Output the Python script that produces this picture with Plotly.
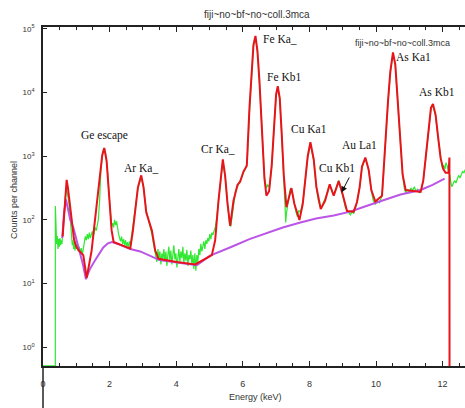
import plotly.graph_objects as go

# ---------------- data ----------------
fit_kev = [0.59, 0.63, 0.67, 0.71, 0.75, 0.80, 0.86, 0.93, 1.00, 1.08, 1.21, 1.31, 1.40, 1.46, 1.53,
           1.61, 1.71, 1.78, 1.84, 1.91, 1.99, 2.06, 2.12, 2.40, 2.62, 2.70, 2.77, 2.85, 2.95, 3.02,
           3.10, 3.17, 3.27, 3.37, 3.47, 4.02, 4.57, 5.07, 5.17, 5.27, 5.34, 5.40, 5.47, 5.54, 5.62,
           5.72, 5.84, 5.92, 6.02, 6.12, 6.20, 6.27, 6.32, 6.38, 6.44, 6.50, 6.55, 6.60, 6.65, 6.71,
           6.79, 6.87, 6.94, 7.00, 7.05, 7.11, 7.17, 7.23, 7.31, 7.38, 7.46, 7.55, 7.70, 7.80, 7.88,
           7.95, 8.03, 8.13, 8.21, 8.34, 8.47, 8.61, 8.73, 8.88, 9.00, 9.13, 9.33, 9.43, 9.51, 9.58,
           9.68, 9.78, 9.86, 9.98, 10.18, 10.23, 10.28, 10.36, 10.43, 10.51, 10.58, 10.66, 10.73, 10.80,
           10.89, 11.10, 11.34, 11.42, 11.49, 11.59, 11.65, 11.71, 11.79, 11.87, 11.94, 12.02, 12.09,
           12.18, 12.205, 12.21, 12.23]
fit_counts = [55, 112, 282, 427, 316, 178, 89, 50, 38, 33, 28, 12.3, 22, 33, 71,
              158, 525, 1047, 1349, 851, 224, 69, 45, 40, 35.5, 68, 158, 324, 501, 324,
              132, 98, 68, 33, 24.5, 21.9, 20, 28, 48, 200, 525, 891, 490, 182, 81,
              200, 355, 398, 575, 708, 5754, 27542, 56234, 77625, 44668, 15136, 3981, 1047, 447, 240,
              282, 741, 3162, 9333, 12589, 8128, 2188, 513, 158, 224, 316, 178, 100, 178, 427,
              1000, 1660, 891, 331, 148, 200, 363, 240, 407, 251, 138, 135, 191, 331, 692,
              955, 617, 295, 195, 240, 646, 1905, 7244, 21380, 42658, 27542, 6457, 1514, 513,
              295, 282, 275, 417, 933, 3162, 5754, 6607, 4467, 1905, 933, 631, 550,
              550, 955, 0.01, 0.01]

bg_kev = [0.58, 0.63, 0.69, 0.75, 0.82, 0.91, 1.00, 1.09, 1.20, 1.29, 1.40, 1.56, 1.70, 1.81, 1.95,
          2.07, 2.30, 2.62, 2.92, 3.32, 3.50, 4.02, 4.62, 5.02, 5.40, 5.72, 6.20, 6.73, 7.20, 7.73,
          8.20, 8.73, 9.23, 9.60, 10.03, 10.40, 10.74, 11.34, 11.70, 12.04, 12.06]
bg_counts = [52, 126, 209, 141, 100, 76, 50, 33, 20, 11.7, 16.6, 23, 30, 37, 43,
             45, 41, 35, 32, 26, 23.4, 21.4, 19.5, 27.5, 33, 39, 50, 62, 76, 91,
             105, 117, 135, 158, 186, 219, 251, 295, 355, 437, 447]

spec_kev = [0.00, 0.37, 0.371, 0.39, 0.41, 0.43, 0.45, 0.47, 0.49, 0.51, 0.53, 0.55, 0.57, 0.59, 0.62,
            0.65, 0.68, 0.71, 0.74, 0.77, 0.80, 0.83, 0.86, 0.88, 0.90, 0.92, 0.94, 0.96, 0.98, 1.00,
            1.03, 1.06, 1.09, 1.12, 1.15, 1.18, 1.21, 1.24, 1.27, 1.30, 1.33, 1.36, 1.39, 1.42, 1.45,
            1.48, 1.51, 1.54, 1.57, 1.60, 1.63, 1.66, 1.70, 1.74, 1.80, 1.84, 1.88, 1.94, 1.99, 2.03,
            2.06, 2.09, 2.12, 2.15, 2.18, 2.21, 2.24, 2.27, 2.30, 2.33, 2.36, 2.39, 2.42, 2.45, 2.48,
            2.51, 2.54, 2.57, 2.60, 2.63, 2.66, 2.70, 2.77, 2.85, 2.95, 3.02, 3.10, 3.17, 3.22, 3.27,
            3.32, 3.37, 3.42, 3.45, 3.48, 3.51, 3.54, 3.57, 3.60, 3.63, 3.66, 3.69, 3.72, 3.75, 3.78,
            3.81, 3.84, 3.87, 3.90, 3.93, 3.96, 3.99, 4.02, 4.05, 4.08, 4.11, 4.14, 4.17, 4.20, 4.23,
            4.26, 4.29, 4.32, 4.35, 4.38, 4.41, 4.44, 4.47, 4.50, 4.53, 4.56, 4.59, 4.62, 4.65, 4.68,
            4.71, 4.74, 4.77, 4.80, 4.83, 4.86, 4.89, 4.92, 4.95, 4.98, 5.01, 5.04, 5.07, 5.10, 5.14,
            5.18, 5.22, 5.27, 5.34, 5.40, 5.47, 5.54, 5.60, 5.64, 5.68, 5.72, 5.78, 5.84, 5.90, 5.96,
            6.02, 6.08, 6.13, 6.20, 6.27, 6.32, 6.38, 6.44, 6.50, 6.55, 6.60, 6.65, 6.71, 6.75, 6.80,
            6.87, 6.94, 7.00, 7.05, 7.11, 7.17, 7.23, 7.27, 7.29, 7.31, 7.34, 7.38, 7.42, 7.46, 7.50,
            7.55, 7.60, 7.64, 7.68, 7.73, 7.77, 7.82, 7.88, 7.95, 8.03, 8.13, 8.21, 8.27, 8.32, 8.36,
            8.40, 8.47, 8.55, 8.61, 8.67, 8.73, 8.80, 8.88, 8.95, 9.02, 9.08, 9.13, 9.18, 9.23, 9.28,
            9.33, 9.38, 9.43, 9.51, 9.58, 9.68, 9.78, 9.86, 9.92, 9.98, 10.04, 10.10, 10.16, 10.20, 10.23,
            10.28, 10.36, 10.43, 10.51, 10.58, 10.66, 10.73, 10.80, 10.85, 10.90, 10.95, 11.00, 11.05, 11.10, 11.15,
            11.20, 11.25, 11.30, 11.36, 11.42, 11.49, 11.59, 11.65, 11.71, 11.79, 11.87, 11.94, 11.99, 12.03, 12.07,
            12.10, 12.14, 12.18, 12.22, 12.25, 12.28, 12.32, 12.36, 12.40, 12.44, 12.48, 12.52, 12.56, 12.60, 12.64,
            12.68, 12.72]
spec_counts = [0.51, 0.51, 166, 68, 42, 56, 35, 50, 38, 52, 40, 48, 42, 63, 112,
               178, 263, 302, 251, 200, 141, 79, 56, 40, 48, 35, 45, 33, 42, 35,
               42, 32, 38, 30, 36, 28, 35, 45, 55, 48, 60, 50, 63, 52, 58,
               66, 55, 70, 76, 68, 83, 100, 200, 631, 1202, 1318, 1122, 562, 224, 112,
               79, 89, 76, 100, 83, 95, 71, 60, 52, 46, 55, 42, 50, 40, 48,
               38, 45, 36, 46, 42, 56, 79, 166, 316, 479, 316, 141, 100, 79, 60,
               42, 32, 22, 35, 25, 32, 20, 30, 24, 35, 22, 32, 19, 28, 38,
               23, 33, 20, 29, 40, 24, 30, 18, 28, 35, 22, 32, 25, 38, 21,
               30, 23, 34, 19, 28, 24, 33, 20, 28, 17, 30, 16, 28, 22, 35,
               28, 42, 32, 38, 46, 35, 48, 42, 52, 46, 60, 50, 63, 58, 71,
               79, 112, 200, 501, 832, 479, 191, 89, 79, 112, 191, 282, 331, 398, 447,
               550, 631, 794, 5012, 26303, 53703, 74131, 42658, 14125, 3802, 1000, 479, 316, 355, 331,
               708, 3020, 8913, 12023, 7943, 2089, 501, 158, 91, 126, 178, 224, 302, 316, 240,
               166, 132, 112, 141, 132, 158, 224, 417, 955, 1585, 851, 316, 200, 166, 158,
               178, 214, 282, 355, 282, 251, 316, 417, 316, 224, 158, 141, 132, 120, 135,
               126, 151, 191, 316, 661, 933, 603, 282, 200, 178, 200, 186, 224, 316, 603,
               1820, 6918, 20417, 40738, 26303, 6166, 1445, 501, 316, 263, 302, 275, 316, 288, 331,
               282, 302, 269, 295, 417, 891, 3020, 5495, 6310, 4266, 1820, 912, 661, 724, 631,
               794, 708, 562, 501, 380, 331, 372, 417, 380, 437, 501, 457, 525, 575, 550,
               631, 692]

x_tick_vals = [0, 2, 4, 6, 8, 10, 12]
x_tick_text = ["0", "2", "4", "6", "8", "10", "12"]
y_tick_vals = [1, 10, 100, 1000, 10000, 100000]
y_tick_text = ["10<sup>0</sup>", "10<sup>1</sup>", "10<sup>2</sup>", "10<sup>3</sup>",
               "10<sup>4</sup>", "10<sup>5</sup>"]

peak_labels = ["Ge escape", "Ar Ka_", "Cr Ka_", "Fe Ka_", "Fe Kb1", "Cu Ka1",
               "Cu Kb1", "Au La1", "As Ka1", "As Kb1"]

# ---------------- figure ----------------
GREEN = "#2fe82f"
RED = "#e8141b"
VIOLET = "#bb55e6"

fig = go.Figure()
fig.add_trace(go.Scatter(x=spec_kev, y=spec_counts, mode="lines",
                         line=dict(color=GREEN, width=1.2), showlegend=False))
fig.add_trace(go.Scatter(x=bg_kev, y=bg_counts, mode="lines",
                         line=dict(color=VIOLET, width=2), showlegend=False))
fig.add_trace(go.Scatter(x=fit_kev, y=fit_counts, mode="lines",
                         line=dict(color=RED, width=2), showlegend=False))

W, H = 465, 408
L, R, T, B = 43, 0, 27, 42
pw, ph = W - L - R, H - T - B


def px(xp):
    return (xp - L) / pw


def py(yp):
    return (H - B - yp) / ph


ann = []
label_pos = [(104.7, 135), (140.8, 167.7), (217.5, 149), (279.7, 38.7), (284, 77),
             (308.8, 129), (337, 167.7), (359.5, 145), (413, 57.3), (437, 91.7)]
for txt, (xp, yp) in zip(peak_labels, label_pos):
    ann.append(dict(text=txt, x=px(xp), y=py(yp), xref="paper", yref="paper",
                    showarrow=False, xanchor="center", yanchor="middle",
                    font=dict(family="Liberation Serif", size=11.5, color="#111")))

# arrow for Cu Kb1
ann.append(dict(text="", x=px(341.5), y=py(192.5), xref="paper", yref="paper",
                ax=8.5, ay=-16.5, showarrow=True, arrowhead=2, arrowsize=1.2,
                arrowwidth=1, arrowcolor="#111"))

# inner file label
ann.append(dict(text="fiji~no~bf~no~coll.3mca", x=px(402), y=py(43), xref="paper", yref="paper",
                showarrow=False, xanchor="center", yanchor="middle",
                font=dict(family="Liberation Sans", size=9, color="#333")))
# title
ann.append(dict(text="fiji~no~bf~no~coll.3mca", x=px(257), y=py(15), xref="paper", yref="paper",
                showarrow=False, xanchor="center", yanchor="middle",
                font=dict(family="Liberation Sans", size=10, color="#333")))
# axis titles
ann.append(dict(text="Energy (keV)", x=px(255), y=py(397), xref="paper", yref="paper",
                showarrow=False, xanchor="center", yanchor="middle",
                font=dict(family="Liberation Sans", size=9, color="#333")))
ann.append(dict(text="Counts per channel", x=px(14), y=py(200), xref="paper", yref="paper",
                showarrow=False, textangle=-90, xanchor="center", yanchor="middle",
                font=dict(family="Liberation Sans", size=9, color="#333")))

shapes = [dict(type="line", xref="paper", yref="paper", x0=0, x1=0, y0=py(408), y1=0,
               line=dict(color="#222", width=1.5))]

fig.update_layout(
    width=W, height=H,
    margin=dict(l=L, r=R, t=T, b=B),
    paper_bgcolor="white", plot_bgcolor="white",
    annotations=ann, shapes=shapes,
    xaxis=dict(range=[0, pw / 33.3], showgrid=False, zeroline=False,
               showline=True, linecolor="#222", linewidth=1.5, mirror="ticks",
               ticks="inside", ticklen=5, tickwidth=1, tickcolor="#222",
               tickvals=x_tick_vals, ticktext=x_tick_text,
               ticklabelstandoff=8,
               tickfont=dict(family="Liberation Sans", size=9, color="#333"),
               minor=dict(dtick=0.5, ticks="inside", ticklen=3, tickcolor="#222")),
    yaxis=dict(type="log", range=[-0.294, 5.03], showgrid=False, zeroline=False,
               showline=True, linecolor="#222", linewidth=1.5,
               ticks="inside", ticklen=4, tickwidth=1, tickcolor="#222",
               tickvals=y_tick_vals, ticktext=y_tick_text,
               ticklabelstandoff=5,
               tickfont=dict(family="Liberation Sans", size=8, color="#333")),
)

fig.write_html("out.html")
